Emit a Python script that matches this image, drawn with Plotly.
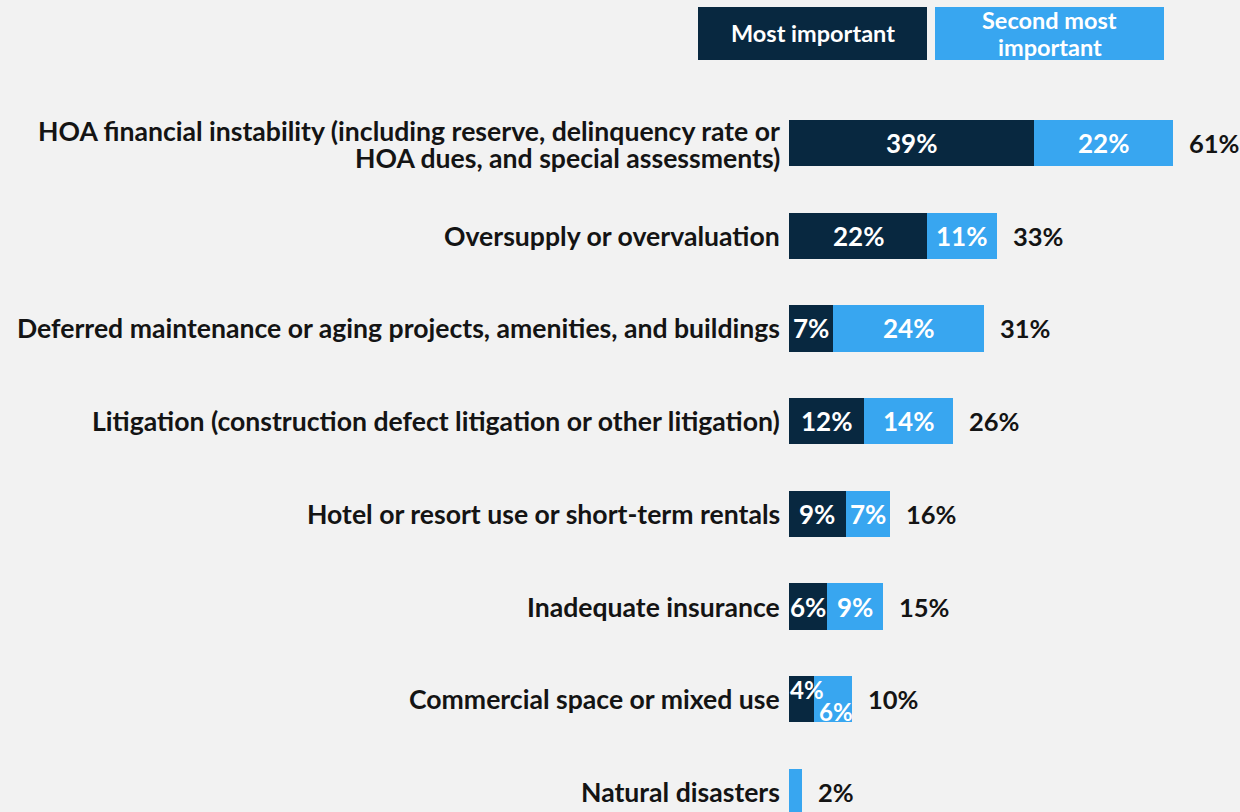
import plotly.graph_objects as go

categories = [
    "HOA financial instability (including reserve, delinquency rate or<br>HOA dues, and special assessments)",
    "Oversupply or overvaluation",
    "Deferred maintenance or aging projects, amenities, and buildings",
    "Litigation (construction defect litigation or other litigation)",
    "Hotel or resort use or short-term rentals",
    "Inadequate insurance",
    "Commercial space or mixed use",
    "Natural disasters",
]
most_important = [39, 22, 7, 12, 9, 6, 4, 0]
second_most = [22, 11, 24, 14, 7, 9, 6, 2]
totals = [61, 33, 31, 26, 16, 15, 10, 2]
series_names = ["Most important", "Second most<br>important"]

DARK = "#082840"
LIGHT = "#38a6f0"
BG = "#f2f2f2"
TXT = "#141414"
FONT = "Lato"
FS = 26

W, H = 1240, 812
ML, MT = 789, 97
plot_w = W - ML
plot_h = H - MT
ppu = 6.29
xmax = plot_w / ppu
spacing = 92.7
c0 = 143
y_top = (MT - c0) / spacing
y_bot = (H - c0) / spacing
LINE = 27

idx = list(range(len(categories)))

fig = go.Figure()
fig.add_trace(go.Bar(y=idx, x=most_important, orientation="h", name=series_names[0],
                     marker=dict(color=DARK, line=dict(width=0)), width=0.5))
fig.add_trace(go.Bar(y=idx, x=second_most, orientation="h", name=series_names[1],
                     marker=dict(color=LIGHT, line=dict(width=0)), width=0.5))


def bold(size, color):
    return dict(family=FONT, size=size, color=color, weight="bold")


ann = []
for i, cat in enumerate(categories):
    lines = cat.split("<br>")
    n = len(lines)
    for k, line in enumerate(lines):
        ann.append(dict(x=0, y=i, xref="x", yref="y", text=line, showarrow=False,
                        xanchor="right", yanchor="middle", align="right", xshift=-7,
                        yshift=((n - 1) / 2 - k) * LINE - (1 if n > 1 else 0),
                        font=bold(26.6, TXT)))
    ann.append(dict(x=totals[i], y=i, xref="x", yref="y", text=f"{totals[i]}%", showarrow=False,
                    xanchor="left", yanchor="middle", xshift=14, font=bold(25.5, TXT)))
    m, s = most_important[i], second_most[i]
    if m >= 6:
        ann.append(dict(x=m / 2, y=i, xref="x", yref="y", text=f"{m}%", showarrow=False,
                        font=bold(FS, "white")))
        ann.append(dict(x=m + s / 2, y=i, xref="x", yref="y", text=f"{s}%", showarrow=False,
                        font=bold(FS, "white")))
    elif m > 0:
        ann.append(dict(x=m / 2, y=i, xref="x", yref="y", text=f"{m}%", showarrow=False,
                        xshift=5, yshift=10, font=bold(FS - 2, "white")))
        ann.append(dict(x=m + s / 2, y=i, xref="x", yref="y", text=f"{s}%", showarrow=False,
                        xshift=3, yshift=-12, font=bold(FS - 2, "white")))


def px_to_paper_x(px):
    return (px - ML) / plot_w


def px_to_paper_y(py):
    return (H - py) / plot_h


shapes = []
legend_boxes = [(698, 927, DARK), (935, 1164, LIGHT)]
for (x0, x1, col), label in zip(legend_boxes, series_names):
    shapes.append(dict(type="rect", xref="paper", yref="paper",
                       x0=px_to_paper_x(x0), x1=px_to_paper_x(x1),
                       y0=px_to_paper_y(60), y1=px_to_paper_y(7),
                       fillcolor=col, line=dict(width=0), layer="above"))
    lines = label.split("<br>")
    n = len(lines)
    for k, line in enumerate(lines):
        ann.append(dict(x=px_to_paper_x((x0 + x1) / 2), y=px_to_paper_y(33.5), xref="paper", yref="paper",
                        text=line, showarrow=False, xanchor="center", yanchor="middle",
                        yshift=((n - 1) / 2 - k) * 27, font=bold(23.5, "white")))

fig.update_layout(
    barmode="stack",
    width=W, height=H,
    margin=dict(l=ML, r=0, t=MT, b=0, pad=0),
    paper_bgcolor=BG, plot_bgcolor=BG,
    showlegend=False,
    xaxis=dict(range=[0, xmax], visible=False, fixedrange=True),
    yaxis=dict(range=[y_bot, y_top], visible=False, fixedrange=True),
    annotations=ann,
    shapes=shapes,
    bargap=0,
)

fig.write_html("out.html", config={"displayModeBar": False},
               post_script="document.body.style.margin='0';document.body.style.background='#f2f2f2';")
